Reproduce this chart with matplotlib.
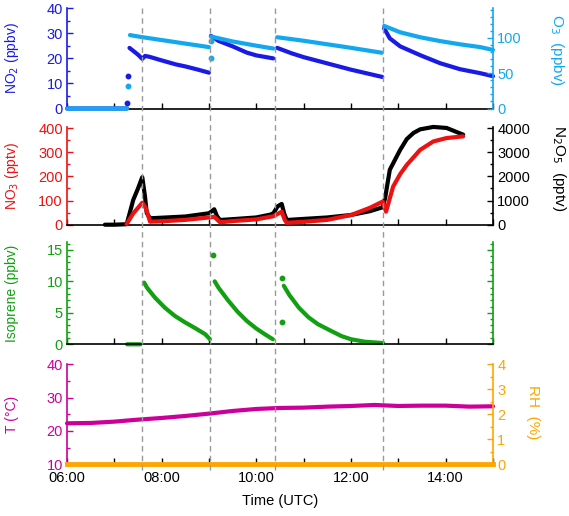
import matplotlib
matplotlib.use("Agg")
import matplotlib.pyplot as plt
import matplotlib.transforms as mtransforms
from matplotlib.lines import Line2D
from matplotlib.ticker import MultipleLocator, FuncFormatter
import numpy as np

plt.rcParams['font.family'] = ['Liberation Sans', 'DejaVu Sans']
plt.rcParams['font.size'] = 10.5

nan = np.nan

# time in decimal hours (UTC); nan breaks the line between injections
no2_t = [6.0, 6.5, 7.0, 7.27, nan, 7.32, 7.40, 7.50, 7.59, 7.65, 7.75, 8.0, 8.3, 8.5, 8.75, 9.0, nan,
         9.04, 9.2, 9.5, 9.8, 10.0, 10.36, nan, 10.44, 10.75, 11.0, 11.5, 12.0, 12.5, 12.66, nan,
         12.70, 12.82, 13.04, 13.46, 13.88, 14.30, 14.73, 15.0]
no2_v = [0, 0, 0, 0, nan, 24.2, 23.0, 21.5, 19.8, 21.0, 20.6, 19.2, 17.6, 16.8, 15.6, 14.3, nan,
         29.0, 27.0, 24.8, 22.3, 21.2, 20.0, nan, 24.2, 22.0, 20.5, 18.0, 15.5, 13.3, 12.6, nan,
         32.0, 28.0, 24.8, 21.3, 18.1, 15.7, 14.1, 12.9]
no2_dot_t = [7.27, 7.28]
no2_dot_v = [2.0, 12.8]

o3_t = [6.0, 6.5, 7.0, 7.27, nan, 7.33, 7.6, 8.0, 8.5, 9.0, nan, 9.04, 9.5, 10.0, 10.36, nan,
        10.44, 11.0, 11.5, 12.0, 12.65, nan, 12.70, 13.04, 13.46, 13.88, 14.30, 14.73, 15.0]
o3_v = [0, 0, 0, 0, nan, 104, 101, 97, 92, 87, nan, 102, 95, 89, 85, nan,
        101, 96, 91, 86, 79, nan, 117, 108, 101, 95.6, 91, 87, 83]
o3_dot_t = [7.28, 9.05, 9.05]
o3_dot_v = [32, 71, 96]

n2o5_t = [6.8, 7.0, 7.26, 7.33, 7.40, 7.50, 7.59, 7.648, 7.684, 7.754, 8.0, 8.5, 9.0, 9.06, 9.11,
          9.17, 9.233, 9.5, 10.0, 10.3, 10.36, 10.45, 10.536, 10.59, 10.642, 11.0, 11.5, 12.0,
          12.4, 12.67, 12.72, 12.82, 13.04, 13.18, 13.32, 13.46, 13.74, 14.02, 14.37]
n2o5_v = [0, 0, 20, 520, 1030, 1500, 1970, 1165, 487, 266, 290, 340, 474, 560, 640,
          350, 195, 230, 300, 420, 474, 760, 860, 450, 195, 240, 300, 403,
          560, 723, 1097, 2275, 3106, 3550, 3800, 3950, 4050, 4008, 3730]

no3_t = [7.26, 7.33, 7.40, 7.50, 7.59, 7.648, 7.684, 7.754, 8.0, 8.5, 9.0, 9.11, 9.233, 9.5, 10.0,
         10.36, 10.536, 10.60, 10.642, 11.0, 11.5, 12.0, 12.4, 12.67, 12.74, 12.89, 13.04, 13.18,
         13.46, 13.74, 14.02, 14.37]
no3_v = [3, 25, 47, 70, 91, 75, 58, 12.5, 14, 20, 30, 33, 10, 15, 22,
         35, 54, 20, 8, 12, 20, 40, 70, 96, 54, 158, 210, 248,
         310, 345, 359, 366]

voc_t = [7.27, 7.4, 7.55, nan, 7.63, 7.69, 7.86, 8.07, 8.28, 8.49, 8.70, 8.92, 9.02, nan,
         9.12, 9.2, 9.4, 9.6, 9.8, 10.0, 10.2, 10.35, nan,
         10.58, 10.7, 10.9, 11.1, 11.3, 11.56, 11.8, 12.0, 12.3, 12.68]
voc_v = [0, 0, 0, nan, 9.8, 9.0, 7.4, 5.8, 4.5, 3.5, 2.6, 1.6, 0.8, nan,
         10.0, 9.0, 7.0, 5.2, 3.7, 2.5, 1.5, 0.8, nan,
         9.3, 7.8, 5.8, 4.3, 3.2, 2.2, 1.3, 0.8, 0.4, 0.2]
voc_dot_t = [9.08, 10.55, 10.55]
voc_dot_v = [14.2, 10.6, 3.5]

temp_t = [6.0, 6.5, 7.0, 7.5, 8.0, 8.5, 9.0, 9.5, 10.0, 10.5, 11.0, 11.5, 12.0, 12.5, 13.0,
          13.5, 14.0, 14.5, 15.0]
temp_v = [22.3, 22.4, 22.8, 23.4, 23.9, 24.5, 25.2, 26.0, 26.6, 26.9, 27.0, 27.3, 27.5, 27.8, 27.5,
          27.6, 27.6, 27.3, 27.4]

rh_t = [6.0, 9.0, 12.0, 15.0]
rh_v = [0, 0, 0, 0]

# injection times
inject_t = [7.59, 9.02, 10.39, 12.67]

c_no2 = '#1a1ae6'
c_o3 = '#12a8f0'
c_no3 = '#ee1111'
c_n2o5 = 'black'
c_voc = '#11a011'
c_t = '#cc0099'
c_rh = '#ffa500'

W, H = 569, 516
fig = plt.figure(figsize=(W / 100, H / 100), dpi=100)


def px_axes(top, bottom):
    return fig.add_axes([67 / W, 1 - bottom / H, (493 - 67) / W, (bottom - top) / H])


ax1 = px_axes(8.3, 108.5)
ax2 = px_axes(126.7, 224.7)
ax3 = px_axes(242.3, 344.3)
ax4 = px_axes(364.3, 464.3)
ax1r = ax1.twinx()
ax2r = ax2.twinx()
ax4r = ax4.twinx()


def style_main(ax, color, major, minor, last=False):
    ax.set_xlim(6, 15)
    for s in ['top', 'right']:
        ax.spines[s].set_visible(False)
    ax.spines['left'].set_color(color)
    ax.spines['bottom'].set_color('black')
    for s in ['left', 'bottom']:
        ax.spines[s].set_linewidth(1.2)
    ax.yaxis.set_major_locator(MultipleLocator(major))
    ax.yaxis.set_minor_locator(MultipleLocator(minor))
    ax.tick_params(axis='y', which='both', direction='in', colors=color, pad=3)
    ax.tick_params(axis='y', which='major', length=4, width=1)
    ax.tick_params(axis='y', which='minor', length=2.5, width=1)
    ax.xaxis.set_major_locator(MultipleLocator(1))
    ax.tick_params(axis='x', direction='in', length=4, width=1, labelbottom=last, pad=5)
    ax.xaxis.set_major_formatter(FuncFormatter(
        lambda h, p: f"{int(round(h)):02d}:00" if int(round(h)) % 2 == 0 else ""))


def style_right(ax, color, major, minor, labels=True):
    for s in ['top', 'left', 'bottom']:
        ax.spines[s].set_visible(False)
    ax.spines['right'].set_color(color)
    ax.spines['right'].set_linewidth(1.2)
    ax.yaxis.set_major_locator(MultipleLocator(major))
    ax.yaxis.set_minor_locator(MultipleLocator(minor))
    ax.tick_params(axis='y', which='both', direction='in', colors=color, pad=3, labelright=labels)
    ax.tick_params(axis='y', which='major', length=4, width=1)
    ax.tick_params(axis='y', which='minor', length=2.5, width=1)


line_kw = dict(lw=3, solid_capstyle='round', solid_joinstyle='round', clip_on=False)
dot_kw = dict(ls='none', marker='o', ms=3.2, clip_on=False)

# NO2 and O3
style_main(ax1, c_no2, 10, 5)
style_right(ax1r, c_o3, 50, 10)
ax1.set_ylim(0, 40)
ax1r.set_ylim(0, 142)
ax1.plot(no2_t, no2_v, color=c_no2, **line_kw)
ax1.plot(no2_dot_t, no2_dot_v, color=c_no2, **dot_kw)
ax1r.plot(o3_t, o3_v, color=c_o3, **line_kw)
ax1r.plot(o3_dot_t, o3_dot_v, color=c_o3, **dot_kw)

# NO3 and N2O5
style_main(ax2, c_no3, 100, 50)
style_right(ax2r, c_n2o5, 1000, 500)
ax2.set_ylim(0, 406)
ax2r.set_ylim(0, 4060)
ax2.plot(no3_t, no3_v, color=c_no3, zorder=3, **line_kw)
ax2r.plot(n2o5_t, n2o5_v, color=c_n2o5, **line_kw)
ax2.set_zorder(ax2r.get_zorder() + 1)
ax2.patch.set_visible(False)

# VOC
style_main(ax3, c_voc, 5, 1)
ax3.spines['right'].set_visible(True)
ax3.spines['right'].set_color(c_voc)
ax3.spines['right'].set_linewidth(1.2)
ax3.tick_params(axis='y', which='both', right=True, labelright=False)
ax3.set_ylim(0, 16.2)
ax3.plot(voc_t, voc_v, color=c_voc, **line_kw)
ax3.plot(voc_dot_t, voc_dot_v, color=c_voc, **dot_kw)

# T and RH
style_main(ax4, c_t, 10, 5, last=True)
style_right(ax4r, c_rh, 1, 0.5)
ax4.set_ylim(10, 40)
ax4r.set_ylim(0, 4)
ax4.plot(temp_t, temp_v, color=c_t, **line_kw)
ax4r.plot(rh_t, rh_v, color=c_rh, lw=3.5, clip_on=False)
ax4.set_xlabel('Time (UTC)', labelpad=6)

for ax in [ax1r, ax2r, ax4r]:
    ax.set_xlim(6, 15)

# injection markers across all panels
trans = mtransforms.blended_transform_factory(ax4.transData, fig.transFigure)
for t in inject_t:
    fig.add_artist(Line2D([t, t], [1 - 8 / H, 1 - 470 / H], transform=trans,
                          color='#999999', lw=1, ls=(0, (4, 3)), zorder=10))


# axis titles
def lab(x, y, s, color, rot, ha, size=10.5):
    fig.text(x / W, 1 - y / H, s, color=color, rotation=rot, ha=ha, va='center', fontsize=size)


lab(12, 58, 'NO$_2$ (ppbv)', c_no2, 90, 'center', 10)
lab(12, 176, 'NO$_3$ (pptv)', c_no3, 90, 'center', 10)
lab(12, 293, 'Isoprene (ppbv)', c_voc, 90, 'center', 10)
lab(12, 414, 'T (°C)', c_t, 90, 'center', 10)
lab(548, 50, 'O$_3$  (ppbv)', c_o3, 270, 'left', 11)
lab(550, 168, 'N$_2$O$_5$  (pptv)', c_n2o5, 270, 'left', 11)
lab(526, 412, 'RH  (%)', c_rh, 270, 'left', 11)

fig.savefig('out.png', dpi=100)
